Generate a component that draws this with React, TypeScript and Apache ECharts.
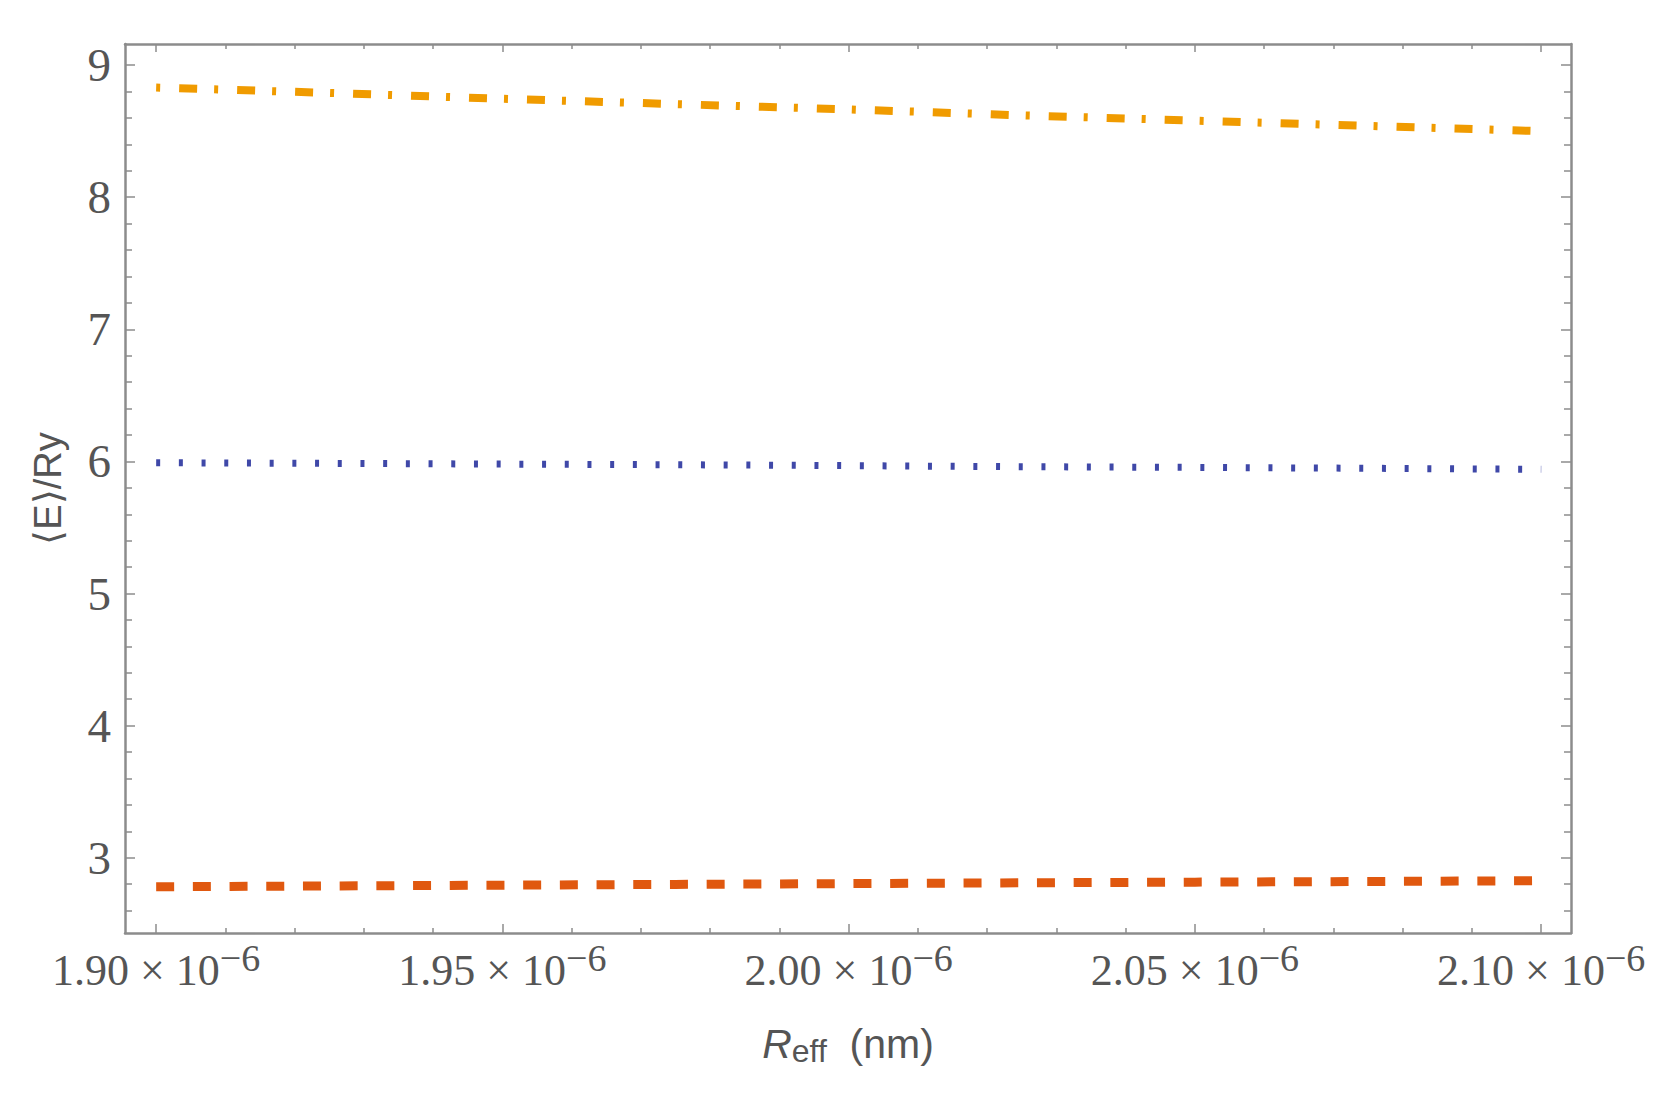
import { useEffect, useRef } from 'react';
import * as echarts from 'echarts';

// x in units of 10^-6 (shown as "1.90×10^-6")
const xValues = [1.9, 1.925, 1.95, 1.975, 2.0, 2.025, 2.05, 2.075, 2.1];
const upperLevel = [8.83, 8.79, 8.745, 8.705, 8.665, 8.62, 8.58, 8.54, 8.5];
const middleLevel = [5.99, 5.985, 5.98, 5.975, 5.968, 5.96, 5.955, 5.948, 5.94];
const lowerLevel = [2.78, 2.786, 2.792, 2.798, 2.804, 2.81, 2.815, 2.82, 2.826];

const xMajorTicks = [1.9, 1.95, 2.0, 2.05, 2.1];
const xMinorTicks = [
  1.91, 1.92, 1.93, 1.94, 1.96, 1.97, 1.98, 1.99, 2.01, 2.02, 2.03, 2.04, 2.06,
  2.07, 2.08, 2.09,
];
const yMajorTicks = [3, 4, 5, 6, 7, 8, 9];
const yMinorTicks = [
  2.6, 2.8, 3.2, 3.4, 3.6, 3.8, 4.2, 4.4, 4.6, 4.8, 5.2, 5.4, 5.6, 5.8, 6.2, 6.4,
  6.6, 6.8, 7.2, 7.4, 7.6, 7.8, 8.2, 8.4, 8.6, 8.8,
];

const X_MIN = 1.8955;
const X_MAX = 2.1043;
const Y_MIN = 2.43;
const Y_MAX = 9.16;

const FRAME = '#8c8c8c';
const TEXT = '#555555';

const pair = (ys: number[]) => xValues.map((x, i) => [x, ys[i]]);

const xAxisOf = (
  position: 'top' | 'bottom',
  ticks: number[],
  len: number,
  main: boolean
) => ({
  type: 'value',
  position,
  min: X_MIN,
  max: X_MAX,
  axisLine: {
    show: main,
    onZero: false,
    lineStyle: { color: FRAME, width: 2.5 },
  },
  axisTick: {
    show: true,
    inside: true,
    length: len,
    customValues: ticks,
    lineStyle: { color: FRAME, width: 1.5 },
  },
  axisLabel: { show: false },
  splitLine: { show: false },
});

const yAxisOf = (
  position: 'left' | 'right',
  ticks: number[],
  len: number,
  main: boolean
) => ({
  type: 'value',
  position,
  min: Y_MIN,
  max: Y_MAX,
  axisLine: {
    show: main,
    onZero: false,
    lineStyle: { color: FRAME, width: 2.5 },
  },
  axisTick: {
    show: true,
    inside: true,
    length: len,
    customValues: ticks,
    lineStyle: { color: FRAME, width: 1.5 },
  },
  axisLabel: { show: false },
  splitLine: { show: false },
});

const App = () => {
  const chartRef = useRef<HTMLDivElement>(null);

  useEffect(() => {
    if (!chartRef.current) return;
    const chart = echarts.init(chartRef.current, undefined, { renderer: 'svg' });

    const xMain: any = xAxisOf('bottom', xMajorTicks, 9, true);
    xMain.axisLabel = {
      show: true,
      customValues: xMajorTicks,
      margin: 6,
      formatter: (v: number) => `{m|${v.toFixed(2)} × 10}{s|−6}`,
      rich: {
        m: {
          fontFamily: 'Liberation Serif',
          fontSize: 44,
          lineHeight: 46,
          color: TEXT,
          padding: [16, 0, 0, 0],
        },
        s: {
          fontFamily: 'Liberation Serif',
          fontSize: 38,
          lineHeight: 38,
          color: TEXT,
          verticalAlign: 'top',
        },
      },
    };
    xMain.name = '{r|R}{sub|eff}{n|  (nm)}';
    xMain.nameLocation = 'middle';
    xMain.nameGap = 88;
    xMain.nameTextStyle = {
      rich: {
        r: {
          fontFamily: 'Liberation Sans',
          fontStyle: 'italic',
          fontSize: 41,
          lineHeight: 46,
          color: TEXT,
        },
        sub: {
          fontFamily: 'Liberation Sans',
          fontSize: 32,
          lineHeight: 30,
          color: TEXT,
          verticalAlign: 'bottom',
          padding: [32, 0, 0, 0],
        },
        n: {
          fontFamily: 'Liberation Sans',
          fontSize: 41,
          lineHeight: 46,
          color: TEXT,
        },
      },
    };

    const yMain: any = yAxisOf('left', yMajorTicks, 10, true);
    yMain.axisLabel = {
      show: true,
      customValues: yMajorTicks,
      margin: 14,
      fontFamily: 'Liberation Serif',
      fontSize: 47,
      color: TEXT,
    };
    yMain.name = '⟨E⟩/Ry';
    yMain.nameLocation = 'middle';
    yMain.nameRotate = 90;
    yMain.nameGap = 58;
    yMain.nameTextStyle = {
      fontFamily: 'Liberation Sans',
      fontSize: 38,
      color: TEXT,
    };

    chart.setOption({
      animation: false,
      backgroundColor: '#ffffff',
      grid: { left: 125, right: 89, top: 44, bottom: 180 },
      xAxis: [
        xMain,
        xAxisOf('bottom', xMinorTicks, 5, false),
        xAxisOf('top', xMajorTicks, 8, true),
        xAxisOf('top', xMinorTicks, 5, false),
      ],
      yAxis: [
        yMain,
        yAxisOf('left', yMinorTicks, 7, false),
        yAxisOf('right', yMajorTicks, 10, true),
        yAxisOf('right', yMinorTicks, 7, false),
      ],
      series: [
        {
          type: 'line',
          data: pair(upperLevel),
          showSymbol: false,
          lineStyle: {
            color: '#F09B00',
            width: 8,
            type: [4, 19, 18, 17],
            cap: 'butt',
          },
        },
        {
          type: 'line',
          data: pair(middleLevel),
          showSymbol: false,
          lineStyle: {
            color: '#3F48A8',
            width: 7,
            type: [4, 18.7],
            cap: 'butt',
          },
        },
        {
          type: 'line',
          data: pair(lowerLevel),
          showSymbol: false,
          lineStyle: {
            color: '#E0580F',
            width: 9,
            type: [18, 18.7],
            cap: 'butt',
          },
        },
      ],
    });

    return () => {
      chart.dispose();
    };
  }, []);

  return (
    <div
      ref={chartRef}
      style={{
        position: 'fixed',
        left: 0,
        top: 0,
        width: 1660,
        height: 1113,
        background: '#ffffff',
      }}
    />
  );
};

export default App;
